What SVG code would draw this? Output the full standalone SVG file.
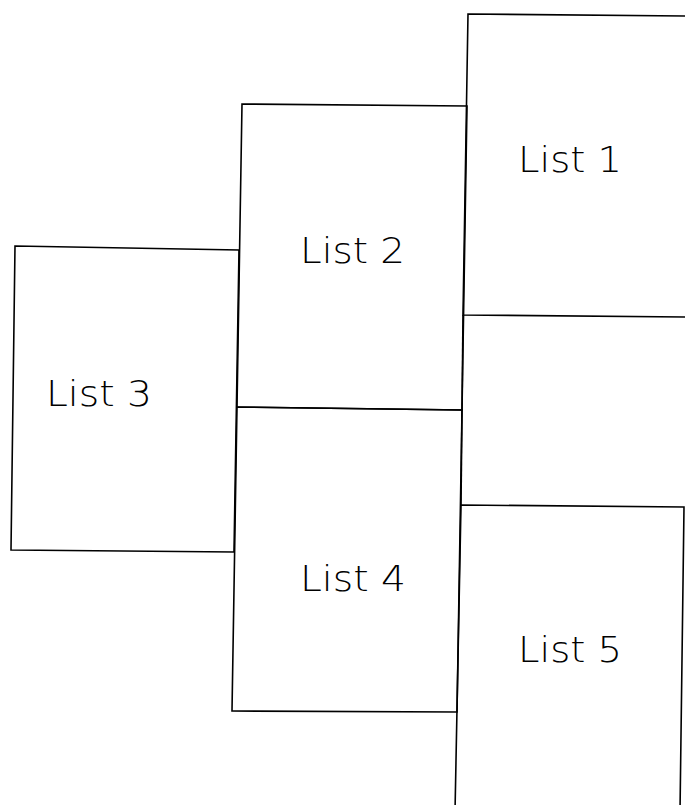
<svg xmlns="http://www.w3.org/2000/svg" width="685" height="805" viewBox="0 0 685 805">
<style>
.box{fill:none;stroke:#000;stroke-width:1.6;stroke-linejoin:miter}
.lbl{font-family:"DejaVu Sans","Liberation Sans",sans-serif;font-weight:200;font-size:36px;fill:#000}
</style>
<rect width="685" height="805" fill="#fff"/>
<g id="list1">
<polygon class="box" points="468,14 692,16 692,317 463,315"/>
<text class="lbl" x="518" y="172" textLength="104" lengthAdjust="spacingAndGlyphs">List 1</text>
</g>
<g id="list2">
<polygon class="box" points="242,104 467,106 462,410 237,407"/>
<text class="lbl" x="300" y="263" textLength="105" lengthAdjust="spacingAndGlyphs">List 2</text>
</g>
<g id="list3">
<polygon class="box" points="15,246 239,250 234,552 11,550"/>
<text class="lbl" x="46" y="406" textLength="106" lengthAdjust="spacingAndGlyphs">List 3</text>
</g>
<g id="list4">
<polygon class="box" points="237,407 462,410 457,712 232,711"/>
<text class="lbl" x="300" y="591" textLength="106" lengthAdjust="spacingAndGlyphs">List 4</text>
</g>
<g id="list5">
<polygon class="box" points="461,505 684,507 680,812 455,812"/>
<text class="lbl" x="518" y="662" textLength="104" lengthAdjust="spacingAndGlyphs">List 5</text>
</g>
<g id="connectors">
<line class="box" x1="463" y1="315" x2="461" y2="505"/>
</g>
</svg>
